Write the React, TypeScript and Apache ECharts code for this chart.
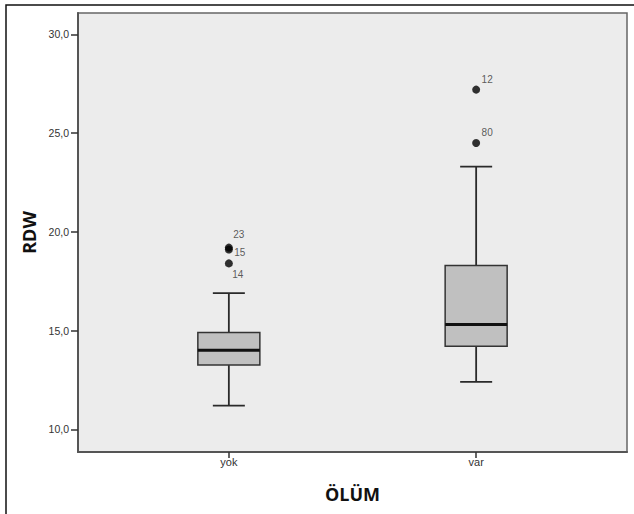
import React, { useEffect, useRef } from "react";
import * as echarts from "echarts";

const categories = ["yok", "var"];
const whiskerLow = [11.2, 12.4];
const quartile1 = [13.25, 14.2];
const medians = [14.0, 15.3];
const quartile3 = [14.9, 18.3];
const whiskerHigh = [16.9, 23.3];

const outlierGroup = [0, 0, 0, 1, 1];
const outlierValue = [19.2, 19.1, 18.4, 27.2, 24.5];
const outlierCase = ["23", "15", "14", "12", "80"];
const outlierLabelOffset = [
  [10, -13],
  [11, 3],
  [9, 11],
  [11, -10],
  [11, -10],
];

const yTicks = [10, 15, 20, 25, 30];

const FONT = 'Arial, "Liberation Sans", sans-serif';

export default function App() {
  const ref = useRef<HTMLDivElement>(null);

  useEffect(() => {
    if (!ref.current) return;
    const chart = echarts.init(ref.current, undefined, { renderer: "svg" });

    const boxData = categories.map((_, i) => [
      i,
      whiskerLow[i],
      quartile1[i],
      medians[i],
      quartile3[i],
      whiskerHigh[i],
    ]);

    const outlierData = outlierValue.map((v, i) => ({
      value: [outlierGroup[i], v],
      label: {
        show: true,
        formatter: outlierCase[i],
        position: "inside",
        offset: outlierLabelOffset[i],
        color: "#333333",
        fontSize: 10,
        fontFamily: FONT,
      },
    }));

    const boxHalf = 31;
    const capHalf = 16;

    chart.setOption({
      animation: false,
      backgroundColor: "#ffffff",
      graphic: [
        {
          type: "rect",
          shape: { x: 6, y: 5, width: 800, height: 700 },
          style: { fill: "none", stroke: "#111", lineWidth: 1.5 },
          z: -10,
          silent: true,
        },
      ],
      grid: {
        left: 78,
        top: 13,
        right: 7,
        bottom: 62,
        show: true,
        backgroundColor: "#ececec",
        borderColor: "#666",
        borderWidth: 1.5,
      },
      xAxis: {
        type: "value",
        min: -0.61,
        max: 1.61,
        splitLine: { show: false },
        axisLine: { show: true, onZero: false, lineStyle: { color: "#555", width: 2 } },
        axisTick: {
          show: true,
          customValues: [0, 1],
          length: 6,
          lineStyle: { color: "#333", width: 1.5 },
        },
        axisLabel: {
          customValues: [0, 1],
          formatter: (v: number) => categories[Math.round(v)] ?? "",
          color: "#333",
          fontSize: 11,
          fontFamily: FONT,
          margin: 4,
        },
        name: "ÖLÜM",
        nameLocation: "middle",
        nameGap: 33,
        nameTextStyle: {
          fontSize: 18,
          fontWeight: "bold",
          color: "#111",
          fontFamily: '"Open Sans", Arial, sans-serif',
        },
      },
      yAxis: {
        type: "value",
        min: 8.85,
        max: 31.08,
        splitLine: { show: false },
        axisLine: { show: true, onZero: false, lineStyle: { color: "#555", width: 2 } },
        axisTick: {
          show: true,
          customValues: yTicks,
          length: 7,
          lineStyle: { color: "#333", width: 1.5 },
        },
        axisLabel: {
          customValues: yTicks,
          formatter: (v: number) => v.toFixed(1).replace(".", ","),
          color: "#333",
          fontSize: 10.5,
          fontFamily: FONT,
          margin: 9,
        },
        name: "RDW",
        nameLocation: "middle",
        nameGap: 40,
        nameTextStyle: {
          fontSize: 18,
          fontWeight: "bold",
          color: "#111",
          fontFamily: '"Open Sans", Arial, sans-serif',
        },
      },
      series: [
        {
          type: "custom",
          data: boxData,
          encode: { x: 0, y: [1, 2, 3, 4, 5] },
          renderItem: (params: any, api: any) => {
            const x = api.value(0);
            const lo = api.coord([x, api.value(1)]);
            const q1 = api.coord([x, api.value(2)]);
            const med = api.coord([x, api.value(3)]);
            const q3 = api.coord([x, api.value(4)]);
            const hi = api.coord([x, api.value(5)]);
            const cx = lo[0];
            const lineStyle = { stroke: "#2a2a2a", lineWidth: 1.8 };
            return {
              type: "group",
              children: [
                {
                  type: "line",
                  shape: { x1: cx, y1: hi[1], x2: cx, y2: q3[1] },
                  style: lineStyle,
                },
                {
                  type: "line",
                  shape: { x1: cx, y1: q1[1], x2: cx, y2: lo[1] },
                  style: lineStyle,
                },
                {
                  type: "line",
                  shape: { x1: cx - capHalf, y1: hi[1], x2: cx + capHalf, y2: hi[1] },
                  style: lineStyle,
                },
                {
                  type: "line",
                  shape: { x1: cx - capHalf, y1: lo[1], x2: cx + capHalf, y2: lo[1] },
                  style: lineStyle,
                },
                {
                  type: "rect",
                  shape: {
                    x: cx - boxHalf,
                    y: q3[1],
                    width: boxHalf * 2,
                    height: q1[1] - q3[1],
                  },
                  style: { fill: "#c0c0c0", stroke: "#333", lineWidth: 1.5 },
                },
                {
                  type: "line",
                  shape: { x1: cx - boxHalf, y1: med[1], x2: cx + boxHalf, y2: med[1] },
                  style: { stroke: "#111", lineWidth: 3 },
                },
              ],
            };
          },
        },
        {
          type: "scatter",
          data: outlierData,
          symbol: "circle",
          symbolSize: 8,
          itemStyle: { color: "#000" },
          label: {
            color: "#333333",
            fontSize: 10,
            fontFamily: FONT,
          },
          z: 5,
        },
      ],
    });

    return () => chart.dispose();
  }, []);

  return (
    <div
      ref={ref}
      style={{ position: "fixed", left: 0, top: 0, width: 634, height: 514 }}
    />
  );
}
